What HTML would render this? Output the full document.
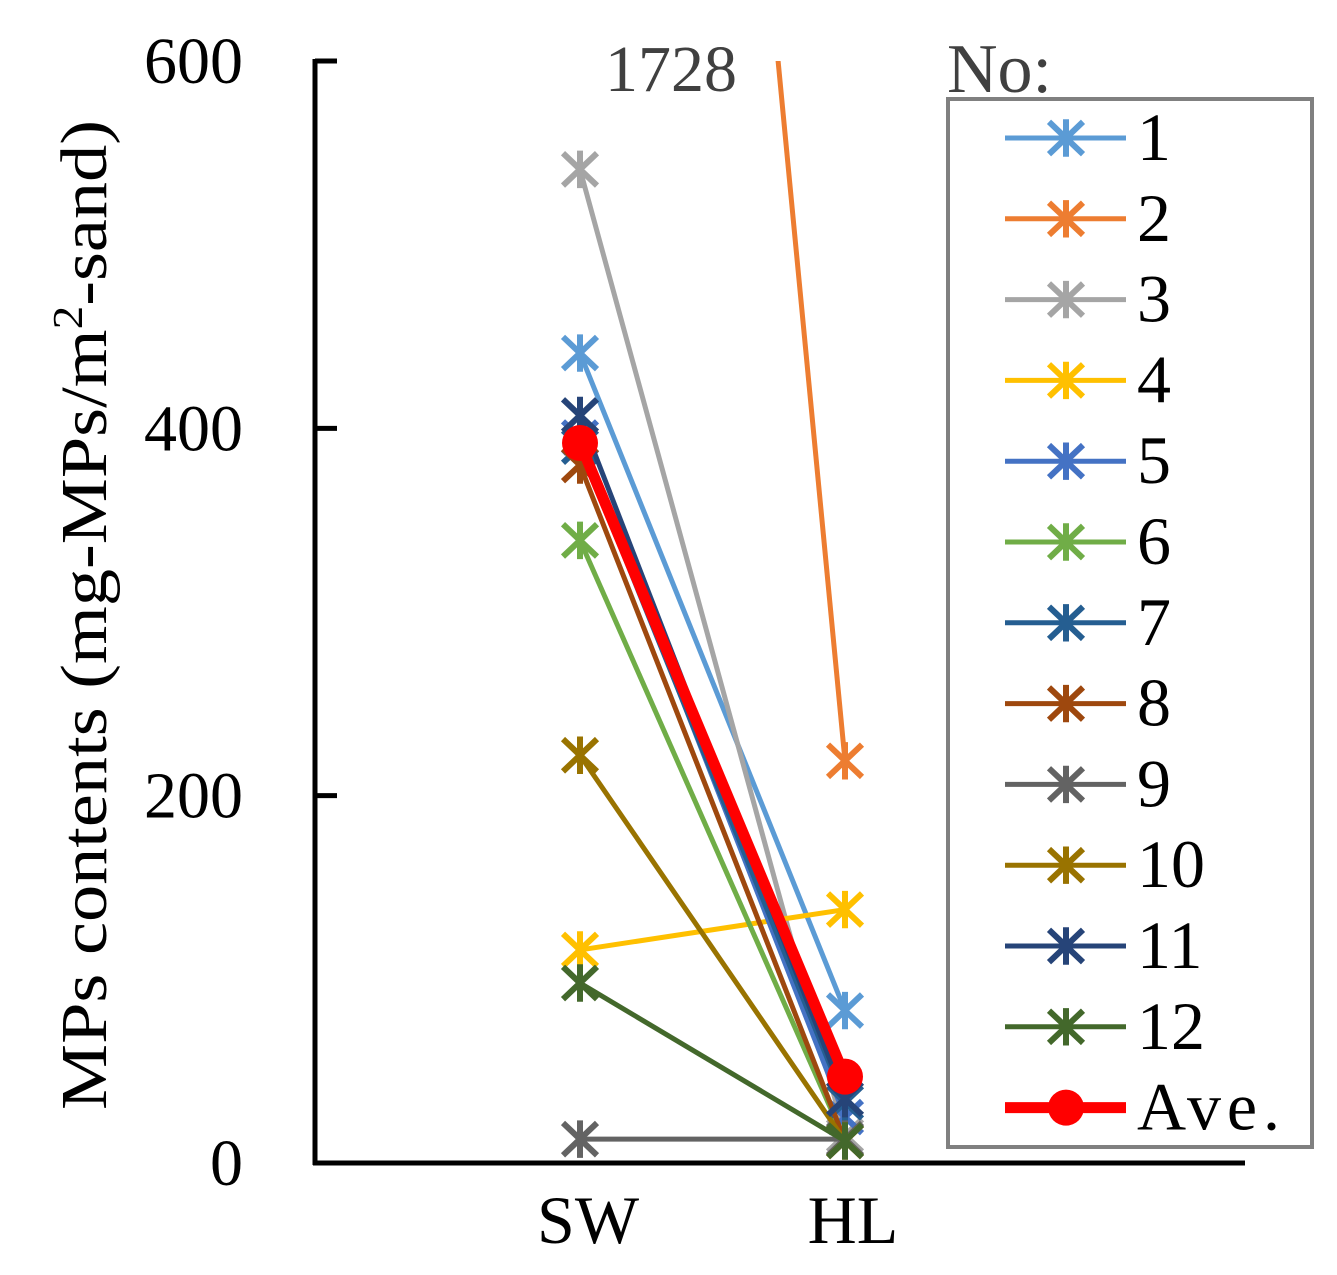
<!DOCTYPE html>
<html><head><meta charset="utf-8"><style>
html,body{margin:0;padding:0;background:#fff;}
svg{display:block;font-family:"Liberation Serif",serif;}
</style></head><body>
<svg id="chart" width="1337" height="1275" viewBox="0 0 1337 1275" xmlns="http://www.w3.org/2000/svg">
<g id="axes"></g>
<g id="series"></g>
<g id="legend"></g>
</svg>
<script>
const categories = ["SW", "HL"];
const seriesNames = ["1","2","3","4","5","6","7","8","9","10","11","12"];
const swValues = [441, 1728, 541, 116, 395, 339, 390, 380, 13, 222, 407, 98];
const hlValues = [83, 219, 15, 138, 25, 12, 33, 12, 13, 12, 35, 12];
const aveValues = [392, 47];
const yTicks = [0, 200, 400, 600];
const colors = ["#5b9bd5","#ed7d31","#a5a5a5","#ffc000","#4472c4","#70ad47","#255e91","#9e480e","#636363","#997300","#264478","#43682b"];

const NS = "http://www.w3.org/2000/svg";
const X0 = 315, XEND = 1245, Y0 = 1163, YTOP = 61, YMAX = 600;
const xPos = [580, 845];
function yScale(v){ return Y0 - (v / YMAX) * (Y0 - YTOP); }
function xScale(i){ return xPos[i]; }
function mk(tag, attrs, parent){ const e = document.createElementNS(NS, tag); for (const k in attrs) e.setAttribute(k, attrs[k]); parent.appendChild(e); return e; }

const axes = document.getElementById('axes');
const series = document.getElementById('series');
const legend = document.getElementById('legend');

let yAxis = mk('line', {x1:X0, y1:YTOP-2, x2:X0, y2:Y0+2, stroke:'#000', 'stroke-width':5}, axes);


let xAxis = mk('line', {x1:X0-2, y1:Y0, x2:XEND, y2:Y0, stroke:'#000', 'stroke-width':5}, axes);


yTicks.forEach(t => {
  const y = yScale(t);
  const tk = mk('line', {x1:X0, y1:y, x2:X0+22, y2:y, stroke:'#000', 'stroke-width':5}, axes);
  
  
  const lb = mk('text', {x:243, y:y+22, 'text-anchor':'end', 'font-size':66, fill:'#000'}, axes);
  lb.textContent = t;
  
  
});
categories.forEach((c, i) => {
  const lb = mk('text', {x:xScale(i)+8, y:1243, 'text-anchor':'middle', 'font-size':68, fill:'#000'}, axes);
  lb.textContent = c;
  
  
});
const title = mk('text', {transform:'translate(106,615) rotate(-90)', 'text-anchor':'middle', 'font-size':66, fill:'#000', textLength:990, lengthAdjust:'spacingAndGlyphs'}, axes);
title.innerHTML = 'MPs contents (mg-MPs/m<tspan dy="-24" font-size="42">2</tspan><tspan dy="24">-sand)</tspan>';



function star(parent, cx, cy, color, s){
  const d = `M${cx-s} ${cy-s*0.95}L${cx+s} ${cy+s*0.95}M${cx-s} ${cy+s*0.95}L${cx+s} ${cy-s*0.95}M${cx} ${cy-s*1.1}L${cx} ${cy+s*1.1}`;
  return mk('path', {d:d, stroke:color, 'stroke-width':6, fill:'none'}, parent);
}

mk('defs', {}, document.getElementById('chart')).innerHTML = `<clipPath id="plotclip"><rect x="${X0}" y="${YTOP}" width="${XEND-X0}" height="${Y0-YTOP}"/></clipPath>`;
series.setAttribute('clip-path', 'url(#plotclip)');

seriesNames.forEach((n, k) => {
  const g = mk('g', {}, series);
  
  
  const vals = [swValues[k], hlValues[k]];
  const ln = mk('line', {x1:xScale(0), y1:yScale(vals[0]), x2:xScale(1), y2:yScale(vals[1]), stroke:colors[k], 'stroke-width':5}, g);
  
  
  vals.forEach((v, i) => {
    const m = star(g, xScale(i), yScale(v), colors[k], 17);
    
    
  });
});
const ag = mk('g', {}, series);


const al = mk('line', {x1:xScale(0), y1:yScale(aveValues[0]), x2:xScale(1), y2:yScale(aveValues[1]), stroke:'#ff0000', 'stroke-width':11}, ag);


aveValues.forEach((v, i) => {
  const c = mk('circle', {cx:xScale(i), cy:yScale(v), r:18, fill:'#ff0000'}, ag);
  
  
});

const ann = mk('text', {x:671, y:91, 'text-anchor':'middle', 'font-size':66, fill:'#404040'}, axes);
ann.textContent = swValues[1];



const noLbl = mk('text', {x:947, y:92, 'font-size':70, fill:'#404040'}, legend);
noLbl.textContent = 'No:';


const box = mk('rect', {x:948, y:99, width:364, height:1048, fill:'#fff', stroke:'#808080', 'stroke-width':4}, legend);


const legY0 = 138, legDy = 80.8;
seriesNames.concat(['Ave.']).forEach((n, k) => {
  const y = legY0 + k * legDy;
  const g = mk('g', {}, legend);
  
  
  const isAve = k === seriesNames.length;
  const col = isAve ? '#ff0000' : colors[k];
  mk('line', {x1:1005, y1:y, x2:1126, y2:y, stroke:col, 'stroke-width':isAve ? 11 : 5}, g);
  if (isAve) mk('circle', {cx:1066, cy:y, r:18, fill:col}, g);
  else star(g, 1066, y, col, 17);
  const t = mk('text', {x:1137, y:y+22, 'font-size':68, fill:'#000'}, g);
  t.textContent = n;
  if (isAve) t.setAttribute('textLength', 143);
});
</script>
</body></html>
